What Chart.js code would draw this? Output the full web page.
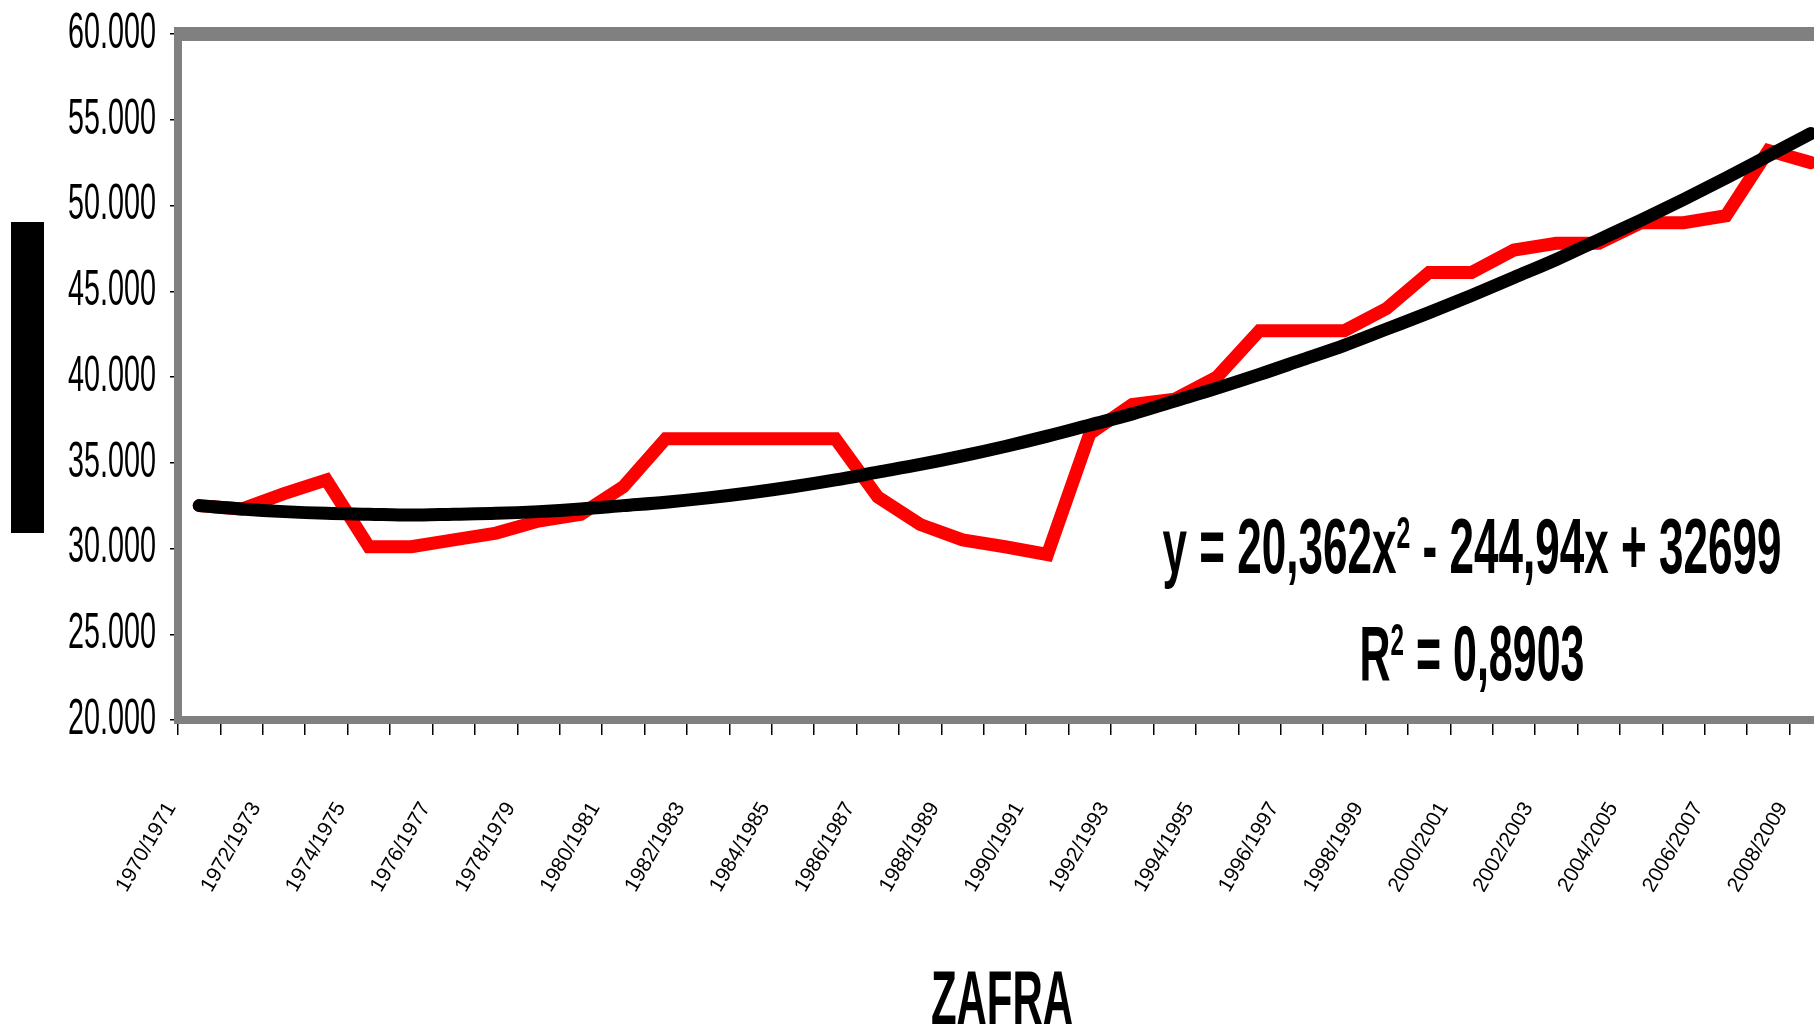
<!DOCTYPE html>
<html>
<head>
<meta charset="utf-8">
<title>ZAFRA</title>
<script src="https://cdn.jsdelivr.net/npm/chart.js@4.4.1/dist/chart.umd.min.js"></script>
<style>
  html, body { margin:0; padding:0; background:#fff; overflow:hidden; }
  #wrap { position:relative; width:1860px; height:1028px; }
</style>
</head>
<body>
<div id="wrap"><canvas id="chart"></canvas></div>
<script>
// --------------------------
// Datos
// --------------------------
const zafras = [
  '1970/1971','1971/1972','1972/1973','1973/1974','1974/1975','1975/1976','1976/1977','1977/1978',
  '1978/1979','1979/1980','1980/1981','1981/1982','1982/1983','1983/1984','1984/1985','1985/1986',
  '1986/1987','1987/1988','1988/1989','1989/1990','1990/1991','1991/1992','1992/1993','1993/1994',
  '1994/1995','1995/1996','1996/1997','1997/1998','1998/1999','1999/2000','2000/2001','2001/2002',
  '2002/2003','2003/2004','2004/2005','2005/2006','2006/2007','2007/2008','2008/2009'
];
const rendimiento = [
  32500, 32300, 33200, 34000, 30100, 30100, 30500, 30900, 31600, 32000,
  33600, 36400, 36400, 36400, 36400, 36400, 33000, 31400, 30500, 30100,
  29650, 36700, 38400, 38700, 40000, 42700, 42700, 42700, 44000, 46100,
  46100, 47400, 47800, 47800, 49000, 49000, 49400, 53200, 52500
];
// línea de tendencia (polinómica) tal como se ve en el gráfico
const tendencia = [
  32500, 32300, 32150, 32050, 32000, 31950, 32000, 32050, 32150, 32300,
  32500, 32700, 32950, 33250, 33600, 34000, 34450, 34900, 35400, 35950,
  36550, 37200, 37850, 38600, 39350, 40150, 41000, 41850, 42800, 43750,
  44750, 45800, 46850, 48000, 49150, 50350, 51600, 52900, 54200
];
const Y_MIN = 20000, Y_MAX = 60000, Y_STEP = 5000;
const tituloX = 'ZAFRA';
const ecuacion = ['y = 20,362x', '2', ' - 244,94x + 32699'];
const r2 = ['R', '2', ' = 0,8903'];

const SANS = '"Liberation Sans", Arial, sans-serif';
const fmt = v => Number(v).toLocaleString('de-DE');

// texto comprimido horizontalmente (fuente estrecha del original)
function drawSquished(ctx, parts, cx, base, width, size, weight){
  const big = `${weight} ${size}px ${SANS}`;
  const small = `${weight} ${Math.round(size*0.56)}px ${SANS}`;
  let total = 0;
  const w = parts.map((t,i)=>{ ctx.font = i%2 ? small : big; const m = ctx.measureText(t).width; total += m; return m; });
  const sx = width/total;
  ctx.save();
  ctx.translate(cx - width/2, base);
  ctx.scale(sx, 1);
  ctx.fillStyle = '#000'; ctx.textAlign = 'left'; ctx.textBaseline = 'alphabetic';
  let x = 0;
  parts.forEach((t,i)=>{ ctx.font = i%2 ? small : big; ctx.fillText(t, x, i%2 ? -size*0.32 : 0); x += w[i]; });
  ctx.restore();
}

const marco = {
  id:'marco',
  beforeDatasetsDraw(chart){
    const {ctx, chartArea:a} = chart;
    ctx.save();
    ctx.strokeStyle = '#808080'; ctx.lineWidth = 14;
    ctx.beginPath(); ctx.moveTo(a.left - 4, a.top); ctx.lineTo(a.right + 20, a.top); ctx.stroke();
    ctx.restore();
  },
  afterDraw(chart){
    const {ctx, chartArea:a} = chart;
    const ys = chart.scales.y;
    ctx.save();
    // título del eje Y (bloque negro)
    ctx.fillStyle = '#000';
    ctx.fillRect(11, a.top + 188, 33, 311);
    // etiquetas del eje Y, estrechas
    ctx.font = `50px ${SANS}`; ctx.textAlign = 'right'; ctx.textBaseline = 'middle';
    ys.ticks.forEach(t=>{
      const py = ys.getPixelForValue(t.value);
      ctx.save(); ctx.translate(a.left - 22, py); ctx.scale(0.575, 1);
      ctx.fillText(fmt(t.value), 0, 0);
      ctx.restore();
    });
    ctx.restore();
    drawSquished(ctx, [tituloX], (a.left + a.right)/2 - 3, 1024, 142, 76, 'bold');
    drawSquished(ctx, ecuacion, 1472, 573, 619, 78, 'bold');
    drawSquished(ctx, r2, 1472, 680, 225, 78, 'bold');
  }
};

new Chart(document.getElementById('chart'), {
  type:'line',
  data:{
    labels: zafras,
    datasets:[
      { label:'Rendimiento', data: rendimiento, borderColor:'#ff0000', backgroundColor:'#ff0000',
        borderWidth:13, pointRadius:0, tension:0, borderCapStyle:'round', order:1 },
      { label:'Polinómica', data: tendencia, borderColor:'#000000', backgroundColor:'#000000',
        borderWidth:13, pointRadius:0, cubicInterpolationMode:'monotone', borderCapStyle:'round', order:0 }
    ]
  },
  options:{
    responsive:true, maintainAspectRatio:false, animation:false,
    layout:{ padding:{ top:34, right:28, left:0, bottom:0 } },
    plugins:{ legend:{display:false}, tooltip:{enabled:false} },
    scales:{
      x:{
        offset:true,
        grid:{ offset:true, drawOnChartArea:false, tickLength:15, tickColor:'#000', lineWidth:1.5 },
        border:{ color:'#808080', width:8 },
        ticks:{
          autoSkip:false, minRotation:60, maxRotation:60, labelOffset:-28, padding:63,
          color:'#000', font:{ family:SANS, size:21 },
          callback(v, i){ return i % 2 === 0 ? this.getLabelForValue(v) : ''; }
        },
        afterFit(s){ s.height = 308; s.paddingLeft = 0; s.paddingRight = 0; }
      },
      y:{
        min:Y_MIN, max:Y_MAX,
        grid:{ drawOnChartArea:false, tickLength:8, tickColor:'#000', lineWidth:1.5 },
        border:{ color:'#808080', width:8 },
        ticks:{ display:false, stepSize:Y_STEP },
        afterFit(s){ s.width = 178; }
      }
    }
  },
  plugins:[marco]
});
</script>
</body>
</html>
